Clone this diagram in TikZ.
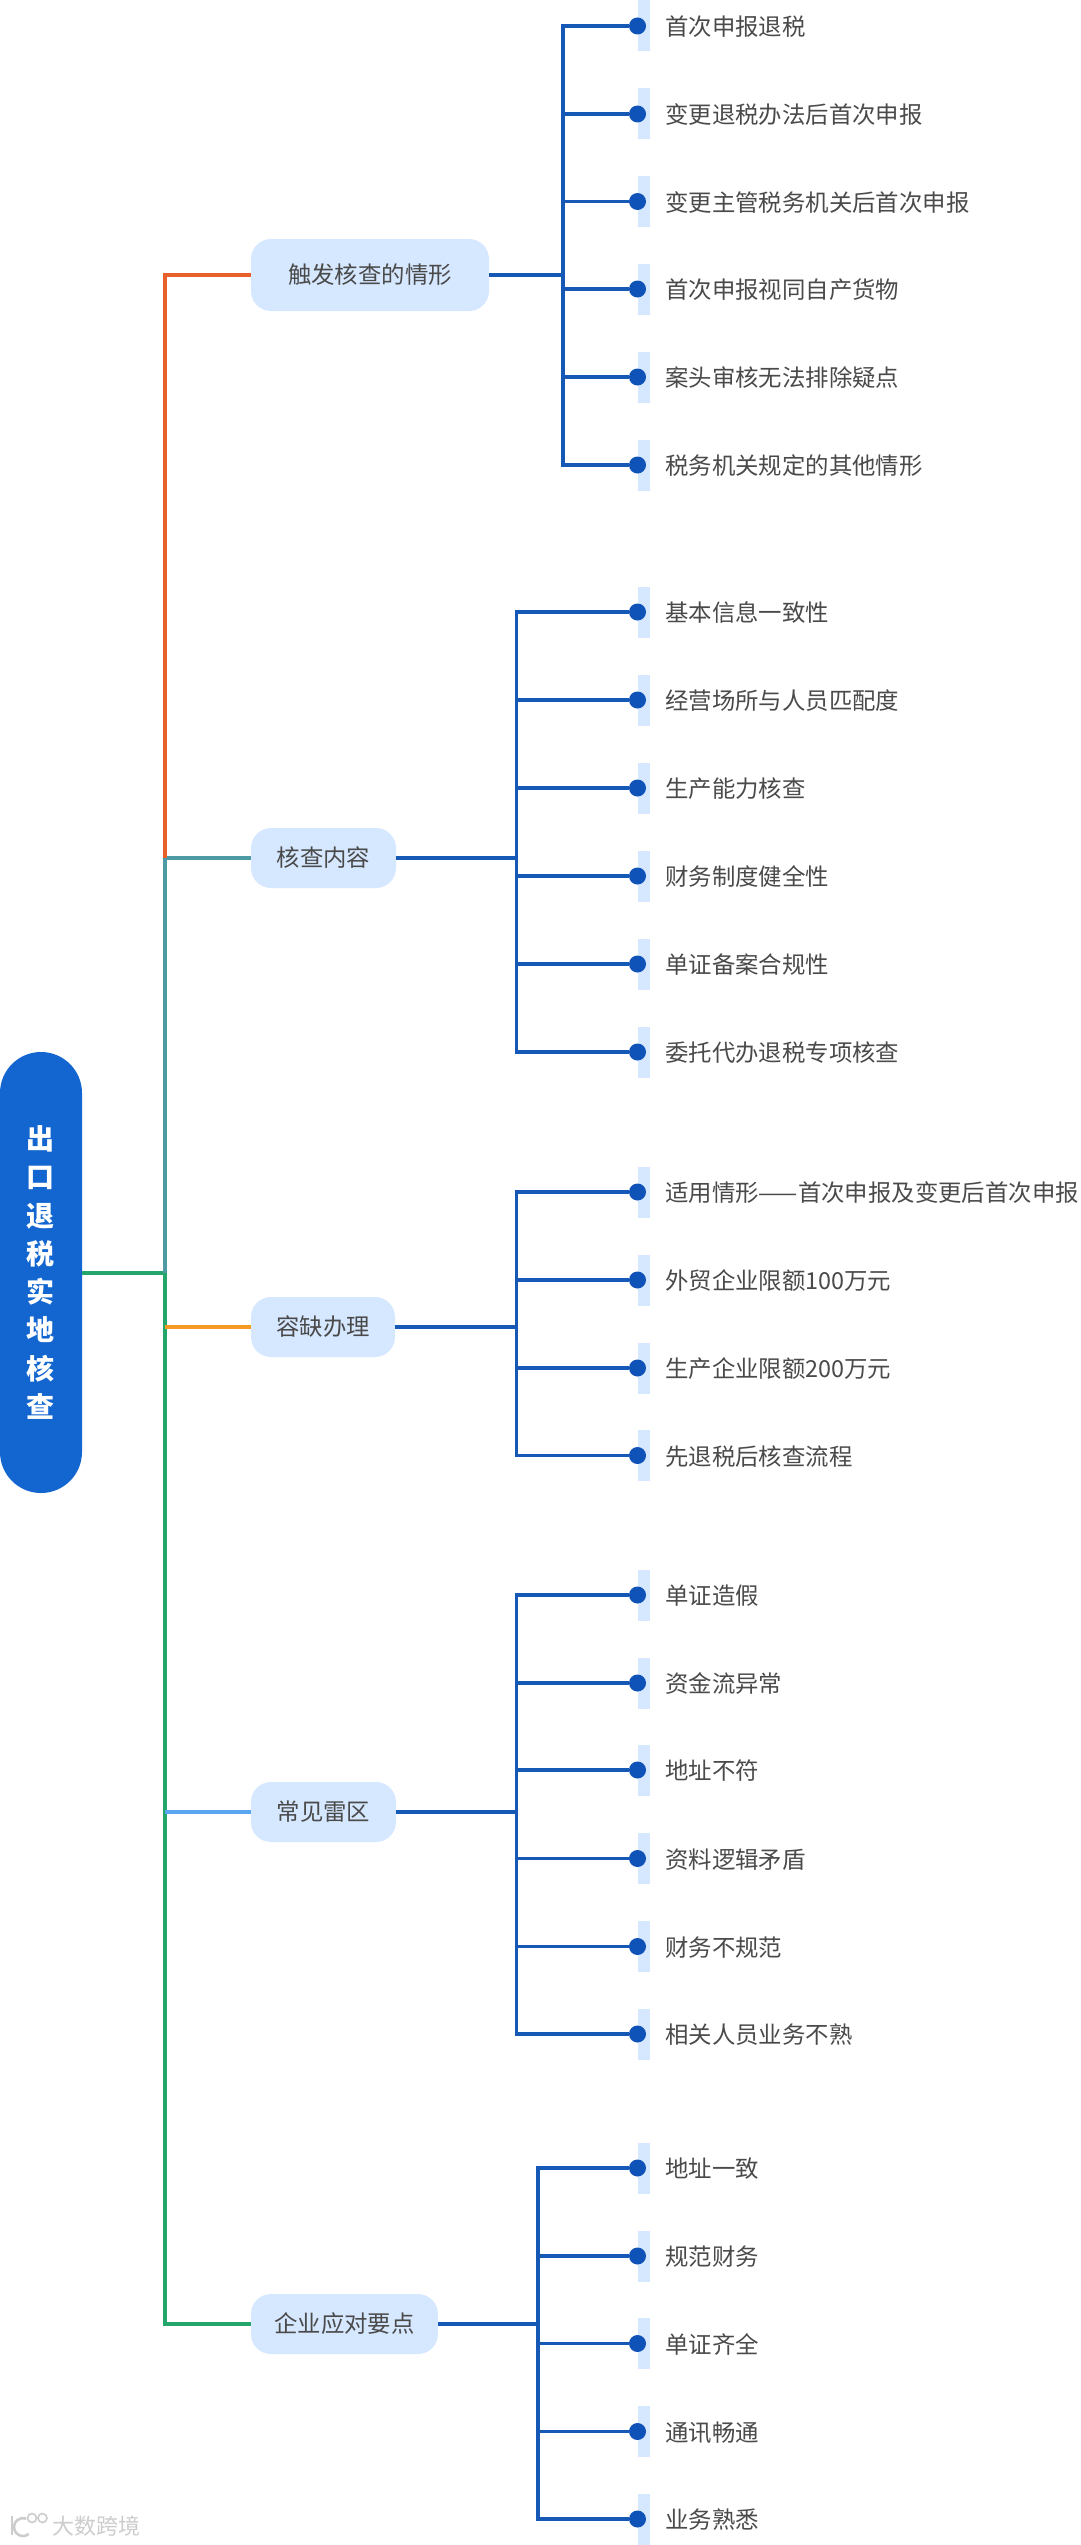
\documentclass[tikz,border=0pt]{standalone}
\usepackage{fontspec}
\setmainfont{Noto Sans CJK SC}

\definecolor{rootblue}{HTML}{1366D0}
\definecolor{twigblue}{HTML}{1558B5}
\definecolor{dotblue}{HTML}{0F52B8}
\definecolor{palefill}{HTML}{D6E8FF}
\definecolor{inktext}{HTML}{4A4A4A}
\definecolor{firered}{HTML}{E8602C}
\definecolor{tealline}{HTML}{4E9BA6}
\definecolor{ambline}{HTML}{F59A23}
\definecolor{skyline}{HTML}{5BA6F0}
\definecolor{leafgreen}{HTML}{24A56C}
\definecolor{markgray}{HTML}{CDCDCD}

\tikzset{
  rootnode/.style={fill=rootblue,text=white,rounded corners=41pt,minimum width=82pt,minimum height=441pt,
    inner sep=0pt,align=center,font=\fontsize{28}{38.3}\selectfont\bfseries},
  catnode/.style={fill=palefill,text=inktext,rounded corners=20pt,minimum height=60pt,inner sep=0pt,
    font=\fontsize{23.4}{28}\selectfont,text height=20.6pt,text depth=2.8pt},
  barnode/.style={fill=palefill,minimum width=12.5pt,minimum height=51pt,inner sep=0pt},
  dotnode/.style={circle,fill=dotblue,minimum size=17pt,inner sep=0pt},
  leafnode/.style={anchor=west,text=inktext,inner sep=0pt,font=\fontsize{23.4}{28}\selectfont,
    text height=21.6pt,text depth=1.8pt},
  rootline/.style={line width=3.4pt},
  stubline/.style={line width=4pt,twigblue},
  twigline/.style={line width=3.4pt,twigblue},
}

\NewDocumentCommand{\leafcell}{mmmm}{%
\node[barnode] (b#2) at (644,#3) {};
\node[dotnode] (d#2) at (637.5,#3) {};
\node[leafnode] (t#2) at (665,#3) {#4};
\draw[twigline] (#1) |- (d#2);
}

\begin{document}
\begin{tikzpicture}[x=1pt,y=-1pt]
  \path[use as bounding box,fill=white] (0,0) rectangle (1080,2545);

  % main branches
  \node[rootnode] (root) at (41,1272.5) {出\\口\\退\\税\\实\\地\\核\\查};
  \node[catnode,minimum width=238pt,minimum height=72pt] (check) at (370,275) {触发核查的情形};
  \node[catnode,minimum width=145pt] (scope) at (323.5,858) {核查内容};
  \node[catnode,minimum width=144pt] (waive) at (323,1327) {容缺办理};
  \node[catnode,minimum width=145pt] (risk) at (323.5,1812) {常见雷区};
  \node[catnode,minimum width=187pt] (reply) at (344.5,2324) {企业应对要点};

  \coordinate (spine) at (165,1273);
  \draw[rootline,leafgreen] (reply.west) -| (spine) -- (root.east |- spine);
  \draw[rootline,tealline] (scope.west) -| (spine);
  \draw[rootline,firered] (check.west) -| (165,858);
  \draw[rootline,ambline] (waive.west) -- (waive.west -| spine);
  \draw[rootline,skyline] (risk.west) -- (risk.west -| spine);

  % hubs
  \coordinate (hubA) at (563,275);
  \coordinate (hubB) at (516.5,858);
  \coordinate (hubC) at (516.5,1327);
  \coordinate (hubD) at (516.5,1812);
  \coordinate (hubE) at (538,2324);
  \draw[stubline] (check.east) -- (hubA);
  \draw[stubline] (scope.east) -- (hubB);
  \draw[stubline] (waive.east) -- (hubC);
  \draw[stubline] (risk.east) -- (hubD);
  \draw[stubline] (reply.east) -- (hubE);

  \leafcell{hubA}{a1}{26}{首次申报退税}
  \leafcell{hubA}{a2}{114}{变更退税办法后首次申报}
  \leafcell{hubA}{a3}{201.5}{变更主管税务机关后首次申报}
  \leafcell{hubA}{a4}{289}{首次申报视同自产货物}
  \leafcell{hubA}{a5}{377}{案头审核无法排除疑点}
  \leafcell{hubA}{a6}{465}{税务机关规定的其他情形}

  \leafcell{hubB}{b1}{612}{基本信息一致性}
  \leafcell{hubB}{b2}{700}{经营场所与人员匹配度}
  \leafcell{hubB}{b3}{788}{生产能力核查}
  \leafcell{hubB}{b4}{876}{财务制度健全性}
  \leafcell{hubB}{b5}{964}{单证备案合规性}
  \leafcell{hubB}{b6}{1052}{委托代办退税专项核查}

  \leafcell{hubC}{c1}{1192}{适用情形——首次申报及变更后首次申报}
  \leafcell{hubC}{c2}{1280}{外贸企业限额100万元}
  \leafcell{hubC}{c3}{1368}{生产企业限额200万元}
  \leafcell{hubC}{c4}{1455.5}{先退税后核查流程}

  \leafcell{hubD}{e1}{1595}{单证造假}
  \leafcell{hubD}{e2}{1683}{资金流异常}
  \leafcell{hubD}{e3}{1770}{地址不符}
  \leafcell{hubD}{e4}{1858.5}{资料逻辑矛盾}
  \leafcell{hubD}{e5}{1946.5}{财务不规范}
  \leafcell{hubD}{e6}{2034}{相关人员业务不熟}

  \leafcell{hubE}{f1}{2168}{地址一致}
  \leafcell{hubE}{f2}{2256}{规范财务}
  \leafcell{hubE}{f3}{2343.5}{单证齐全}
  \leafcell{hubE}{f4}{2431.5}{通讯畅通}
  \leafcell{hubE}{f5}{2519}{业务熟悉}

  % corner mark
  \node[anchor=west,inner sep=0pt,text=markgray,font=\fontsize{22}{24}\selectfont] (mark) at (52,2526) {大数跨境};
  \draw[markgray,line width=2.6pt] (12,2516) -- (12,2535);
  \draw[markgray,line width=2.6pt] (28.8,2533.9) arc (50:290:9);
  \draw[markgray,line width=1.6pt] (32,2518) circle (4.5) (42.5,2518) circle (4.5);
\end{tikzpicture}
\end{document}
